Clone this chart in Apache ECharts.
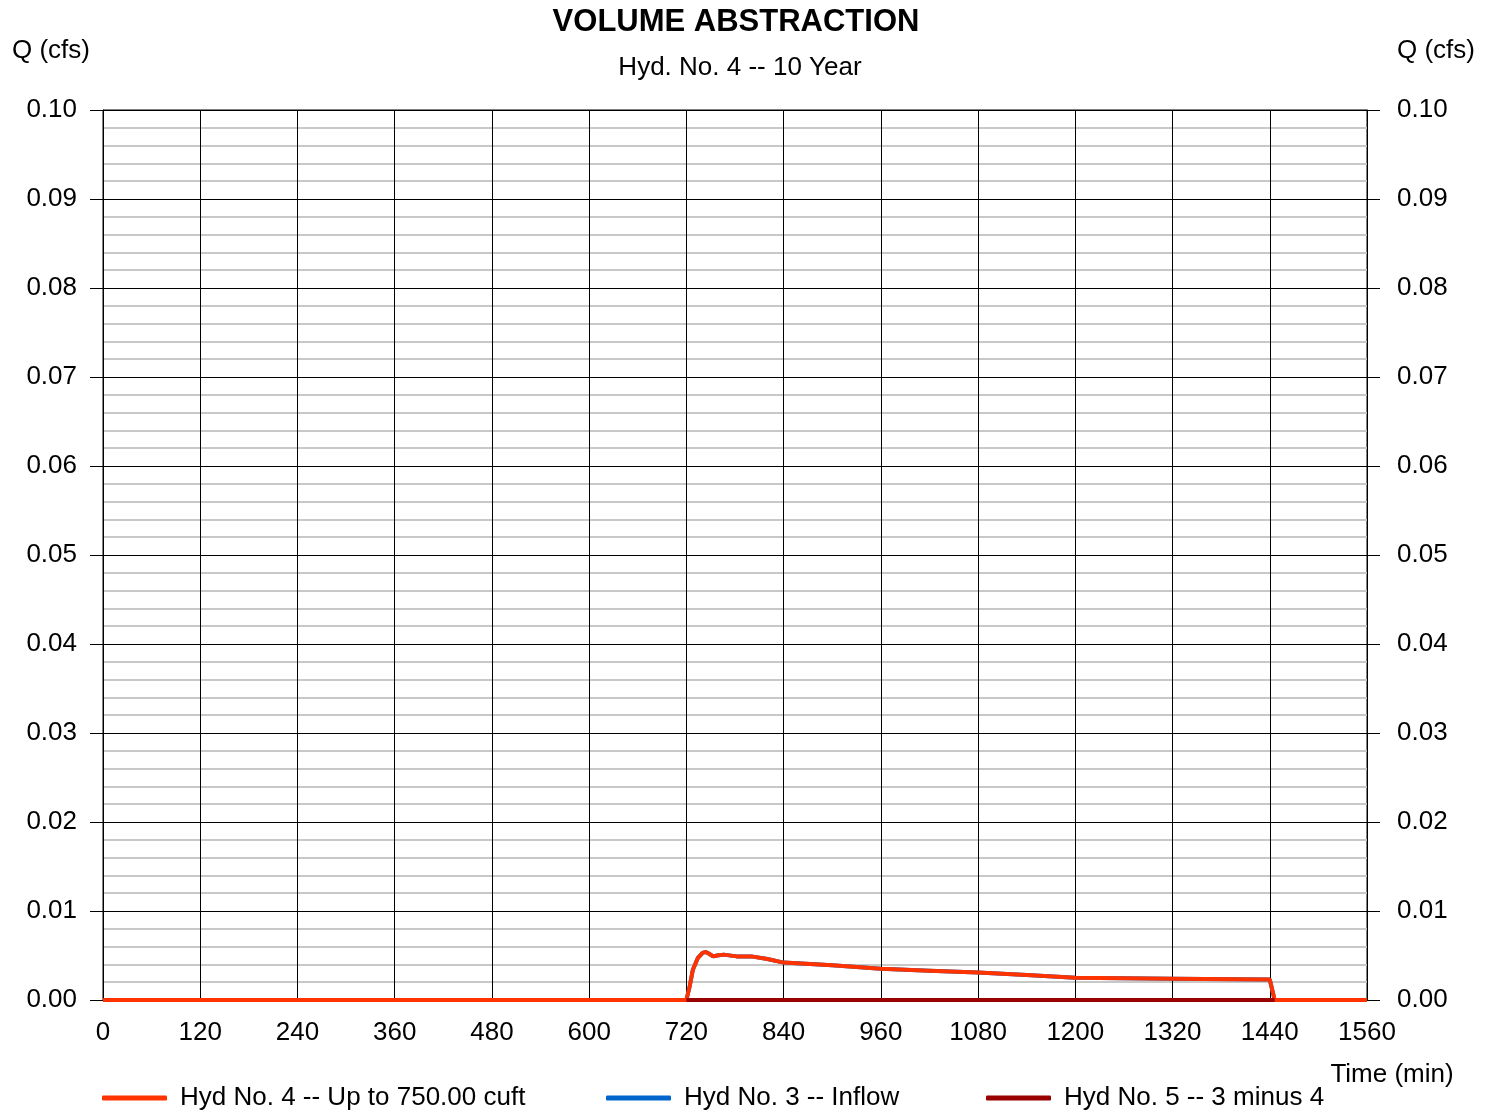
<!DOCTYPE html>
<html>
<head>
<meta charset="utf-8">
<script src="https://cdn.jsdelivr.net/npm/echarts@6/dist/echarts.min.js"></script>
<style>
html,body{margin:0;padding:0;background:#fff;}
#chart{width:1494px;height:1112px;}
</style>
</head>
<body>
<div id="chart"></div>
<script>
// ---- data ----
var titleText = 'VOLUME ABSTRACTION';
var subtitleText = 'Hyd. No. 4 -- 10 Year';
var yTickLabels = ['0.00','0.01','0.02','0.03','0.04','0.05','0.06','0.07','0.08','0.09','0.10'];
var xTickLabels = ['0','120','240','360','480','600','720','840','960','1080','1200','1320','1440','1560'];

var seriesNames = ['Hyd No. 4 -- Up to 750.00 cuft', 'Hyd No. 3 -- Inflow', 'Hyd No. 5 -- 3 minus 4'];
var seriesColors = ['#ff3300', '#0066cc', '#990000'];

// Hyd No. 4 (abstraction) time (min) and flow (cfs)
var timeHyd4 = [0, 720, 724, 728, 734, 740, 744, 748, 753, 758, 766, 782, 800, 820, 840, 900, 960, 1020, 1080, 1140, 1200, 1320, 1440, 1446, 1560];
var flowHyd4 = [0, 0, 0.0015, 0.0034, 0.0047, 0.0053, 0.0054, 0.0052, 0.0049, 0.0050, 0.0051, 0.0049, 0.0049, 0.0046, 0.0042, 0.0039, 0.0035, 0.0033, 0.0031, 0.0028, 0.0025, 0.0024, 0.0023, 0, 0];
// Hyd No. 3 (inflow) - hidden beneath Hyd No. 4
var timeHyd3 = timeHyd4.slice();
var flowHyd3 = flowHyd4.slice();
// Hyd No. 5 (3 minus 4)
var timeHyd5 = [720, 1446];
var flowHyd5 = [0, 0];

function pairs(t, q){ return t.map(function(v,i){ return [v, q[i]]; }); }

var FONT = '"Liberation Sans", Arial, sans-serif';
var FS = 26;
var chart = echarts.init(document.getElementById('chart'));

var legendBase = {
  orient: 'horizontal',
  top: 1085,
  padding: 0,
  icon: 'roundRect',
  itemWidth: 65,
  itemHeight: 5,
  textStyle: {fontFamily: FONT, fontSize: FS, color: '#000', padding: [0,0,0,8]}
};

chart.setOption({
  animation: false,
  backgroundColor: '#fff',
  title: [
    {text: titleText, left: 731, top: 2, textAlign: 'center',
     textStyle: {fontFamily: FONT, fontSize: 31, fontWeight: 'bold', color: '#000'}},
    {text: subtitleText, left: 735, top: 50, textAlign: 'center',
     textStyle: {fontFamily: FONT, fontSize: FS, fontWeight: 'normal', color: '#000'}}
  ],
  legend: [
    Object.assign({}, legendBase, {left: 102, data: [seriesNames[0]]}),
    Object.assign({}, legendBase, {left: 606, data: [seriesNames[1]]}),
    Object.assign({}, legendBase, {left: 986, data: [seriesNames[2]]})
  ],
  grid: {left: 103, right: 127, top: 110, bottom: 112, show: true, borderColor: '#000', borderWidth: 1},
  xAxis: {
    type: 'value', min: 0, max: 1560, interval: 120,
    name: 'Time (min)', nameLocation: 'end', nameGap: 25,
    nameTextStyle: {fontFamily: FONT, fontSize: FS, color: '#000', align: 'center', verticalAlign: 'top', padding: [62,0,0,0]},
    axisLine: {show: true, lineStyle: {color: '#000', width: 1}},
    axisTick: {show: false},
    axisLabel: {margin: 20, fontFamily: FONT, fontSize: FS, color: '#000',
      formatter: function(v){ return xTickLabels[Math.round(v/120)]; }},
    splitLine: {show: true, lineStyle: {color: '#000', width: 1}}
  },
  yAxis: [
    {
      type: 'value', min: 0, max: 0.1, interval: 0.01, position: 'left',
      name: 'Q (cfs)', nameLocation: 'end', nameGap: 46,
      nameTextStyle: {fontFamily: FONT, fontSize: FS, color: '#000', align: 'right', padding: [0,13,0,0]},
      axisLine: {show: true, lineStyle: {color: '#000', width: 1}},
      axisTick: {show: true, length: 13, inside: false, lineStyle: {color: '#000', width: 1}},
      axisLabel: {margin: 26, fontFamily: FONT, fontSize: FS, color: '#000',
        formatter: function(v){ return yTickLabels[Math.round(v*100)]; }},
      splitLine: {show: true, lineStyle: {color: '#000', width: 1}},
      minorTick: {show: false, splitNumber: 5},
      minorSplitLine: {show: true, lineStyle: {color: '#c8c8c8', width: 2}}
    },
    {
      type: 'value', min: 0, max: 0.1, interval: 0.01, position: 'right',
      name: 'Q (cfs)', nameLocation: 'end', nameGap: 46,
      nameTextStyle: {fontFamily: FONT, fontSize: FS, color: '#000', align: 'left', padding: [0,0,0,30]},
      axisLine: {show: true, lineStyle: {color: '#000', width: 1}},
      axisTick: {show: true, length: 13, inside: false, lineStyle: {color: '#000', width: 1}},
      axisLabel: {margin: 30, fontFamily: FONT, fontSize: FS, color: '#000',
        formatter: function(v){ return yTickLabels[Math.round(v*100)]; }},
      splitLine: {show: false}
    }
  ],
  series: [
    {name: seriesNames[1], type: 'line', data: pairs(timeHyd3, flowHyd3), showSymbol: false,
     itemStyle: {color: seriesColors[1]}, lineStyle: {color: seriesColors[1], width: 4}, z: 2},
    {name: seriesNames[0], type: 'line', data: pairs(timeHyd4, flowHyd4), showSymbol: false,
     itemStyle: {color: seriesColors[0]}, lineStyle: {color: seriesColors[0], width: 4}, z: 3},
    {name: seriesNames[2], type: 'line', data: pairs(timeHyd5, flowHyd5), showSymbol: false,
     itemStyle: {color: seriesColors[2]}, lineStyle: {color: seriesColors[2], width: 4}, z: 4}
  ]
});
</script>
</body>
</html>
